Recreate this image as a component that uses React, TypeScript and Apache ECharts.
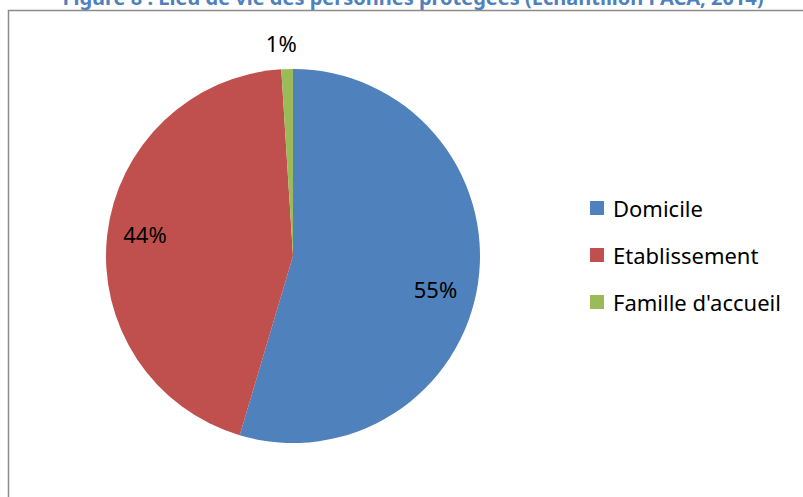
import React, { useEffect, useRef } from "react";
import * as echarts from "echarts";

const TITLE = "Figure 8 : Lieu de vie des personnes protégées (Echantillon PACA, 2014)";
const categories = ["Domicile", "Etablissement", "Famille d'accueil"];
const values = [54.6, 44.4, 1.0];
const colors = ["#4F81BD", "#C0504D", "#9BBB59"];

const FONT = "'Noto Sans', 'Open Sans', sans-serif";

export default function App() {
  const ref = useRef<HTMLDivElement>(null);
  useEffect(() => {
    if (!ref.current) return;
    const chart = echarts.init(ref.current, null, { renderer: "svg" });
    const data = categories.map((name, i) => ({
      name,
      value: values[i],
      itemStyle: { color: colors[i] },
    }));
    const labelData = categories.map((name, i) => ({
      name,
      value: values[i],
      label:
        i === 2
          ? { position: "outside" as const }
          : { position: "inside" as const },
    }));
    chart.setOption({
      animation: false,
      backgroundColor: "#ffffff",
      graphic: [
        {
          type: "rect",
          shape: { x: 8.5, y: 10.5, width: 900, height: 700 },
          style: { fill: "none", stroke: "#8c8c8c", lineWidth: 1.5 },
          silent: true,
        },
        {
          type: "text",
          x: 413,
          y: 7,
          style: {
            text: TITLE,
            fill: "#4F81BD",
            font: `bold 20px ${FONT}`,
            align: "center",
            verticalAlign: "bottom",
          },
          silent: true,
        },
      ],
      legend: {
        orient: "vertical",
        left: 590,
        top: 197,
        padding: 0,
        icon: "rect",
        itemWidth: 14,
        itemHeight: 14,
        itemGap: 25,
        data: categories,
        textStyle: { fontFamily: FONT, fontSize: 22, color: "#000000", padding: [0, 0, 0, 4] },
        selectedMode: false,
      },
      series: [
        {
          type: "pie",
          center: [293, 256],
          radius: [0, 187],
          startAngle: 90,
          clockwise: true,
          data,
          label: { show: false },
          labelLine: { show: false },
          silent: true,
        },
        {
          type: "pie",
          center: [293, 256],
          radius: [105, 187],
          startAngle: 90,
          clockwise: true,
          data: labelData,
          itemStyle: { color: "rgba(0,0,0,0)" },
          legendHoverLink: false,
          label: {
            show: true,
            fontFamily: FONT,
            fontSize: 22,
            color: "#000000",
            formatter: (p: any) => Math.round(p.value) + "%",
          },
          labelLine: { show: false, length: 26, length2: 0 },
          labelLayout: (p: any) => {
            if (p.dataIndex === 2) return { align: "center" };
            if (p.dataIndex === 0) return { dx: -5, dy: 12 };
            return { dy: -5 };
          },
          silent: true,
        },
      ],
    });
    return () => chart.dispose();
  }, []);
  return (
    <div
      ref={ref}
      style={{ position: "fixed", left: 0, top: 0, width: 803, height: 497, background: "#fff" }}
    />
  );
}
